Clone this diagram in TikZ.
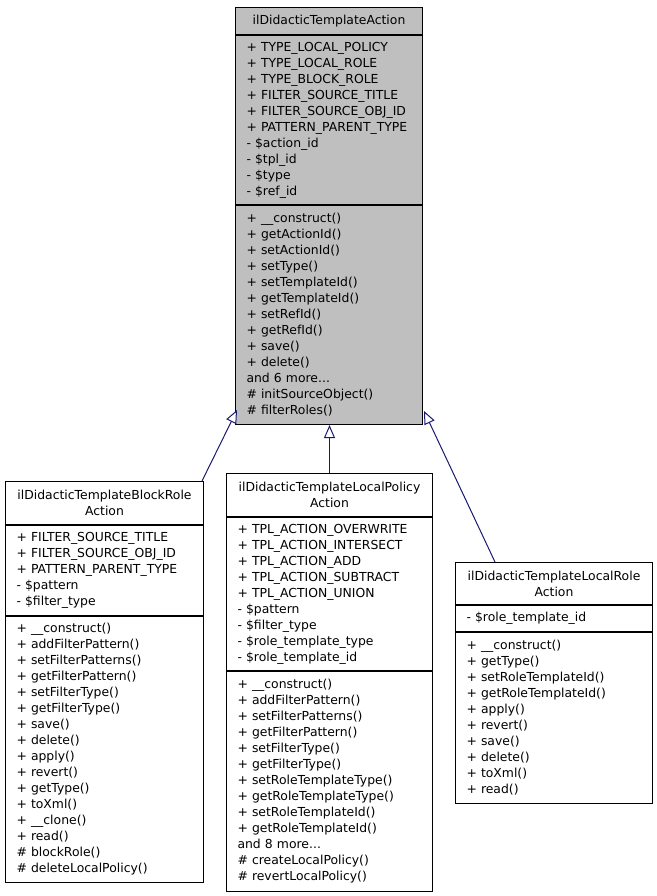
\documentclass[tikz,border=0pt]{standalone}
\usepackage{fontspec}
\usepackage{tikz}
\usetikzlibrary{arrows.meta}
\newfontfamily\umlfont{DejaVu Sans}
\definecolor{basegray}{HTML}{BFBFBF}
\definecolor{edgeblue}{HTML}{191970}

\begin{document}
\begin{tikzpicture}
[   x=1pt,y=-1pt,
    sec/.style={draw=black,line width=1pt,anchor=north west,inner xsep=11pt,inner ysep=0pt,
        align=left,text width=#1,font={\umlfont\fontsize{12.4}{16}\selectfont}},
    head/.style={sec=#1,align=center},
    inherit/.style={draw=edgeblue,line width=1pt,-{Triangle[open,fill=white,length=13pt,width=11pt]}},
]
    \useasboundingbox (0,0) rectangle (656,896);
    % base class
    \node[head=165pt,fill=basegray,minimum height=27pt] (base) at (235,7) {ilDidacticTemplateAction};
    \node[sec=165pt,fill=basegray,minimum height=169pt] (base-a) at (base.south west)
        {+ TYPE\_LOCAL\_POLICY\\+ TYPE\_LOCAL\_ROLE\\+ TYPE\_BLOCK\_ROLE\\+ FILTER\_SOURCE\_TITLE\\
         + FILTER\_SOURCE\_OBJ\_ID\\+ PATTERN\_PARENT\_TYPE\\- \$action\_id\\- \$tpl\_id\\- \$type\\- \$ref\_id};
    \node[sec=165pt,fill=basegray,minimum height=219pt] (base-m) at (base-a.south west)
        {+ \_\_construct()\\+ getActionId()\\+ setActionId()\\+ setType()\\+ setTemplateId()\\
         + getTemplateId()\\+ setRefId()\\+ getRefId()\\+ save()\\+ delete()\\and 6 more...\\
         \# initSourceObject()\\\# filterRoles()};
    % block role
    \node[head=176pt,fill=white,minimum height=43pt] (blk) at (5,481) {ilDidacticTemplateBlockRole\\Action};
    \node[sec=176pt,fill=white,minimum height=90pt] (blk-a) at (blk.south west)
        {+ FILTER\_SOURCE\_TITLE\\+ FILTER\_SOURCE\_OBJ\_ID\\+ PATTERN\_PARENT\_TYPE\\- \$pattern\\- \$filter\_type};
    \node[sec=176pt,fill=white,minimum height=266pt] (blk-m) at (blk-a.south west)
        {+ \_\_construct()\\+ addFilterPattern()\\+ setFilterPatterns()\\+ getFilterPattern()\\
         + setFilterType()\\+ getFilterType()\\+ save()\\+ delete()\\+ apply()\\+ revert()\\
         + getType()\\+ toXml()\\+ \_\_clone()\\+ read()\\\# blockRole()\\\# deleteLocalPolicy()};
    % local policy
    \node[head=184pt,fill=white,minimum height=43pt] (pol) at (226,473) {ilDidacticTemplateLocalPolicy\\Action};
    \node[sec=184pt,fill=white,minimum height=153pt] (pol-a) at (pol.south west)
        {+ TPL\_ACTION\_OVERWRITE\\+ TPL\_ACTION\_INTERSECT\\+ TPL\_ACTION\_ADD\\+ TPL\_ACTION\_SUBTRACT\\
         + TPL\_ACTION\_UNION\\- \$pattern\\- \$filter\_type\\- \$role\_template\_type\\- \$role\_template\_id};
    \node[sec=184pt,fill=white,minimum height=220pt] (pol-m) at (pol-a.south west)
        {+ \_\_construct()\\+ addFilterPattern()\\+ setFilterPatterns()\\+ getFilterPattern()\\
         + setFilterType()\\+ getFilterType()\\+ setRoleTemplateType()\\+ getRoleTemplateType()\\
         + setRoleTemplateId()\\+ getRoleTemplateId()\\and 8 more...\\
         \# createLocalPolicy()\\\# revertLocalPolicy()};
    % local role
    \node[head=175pt,fill=white,minimum height=42pt] (rol) at (455,562) {ilDidacticTemplateLocalRole\\Action};
    \node[sec=175pt,fill=white,minimum height=26pt] (rol-a) at (rol.south west) {- \$role\_template\_id};
    \node[sec=175pt,fill=white,minimum height=171pt] (rol-m) at (rol-a.south west)
        {+ \_\_construct()\\+ getType()\\+ setRoleTemplateId()\\+ getRoleTemplateId()\\+ apply()\\
         + revert()\\+ save()\\+ delete()\\+ toXml()\\+ read()};
    % inheritance
    \draw[inherit] ([xshift=-2pt]blk.north east) -- ([xshift=2pt,yshift=15pt]base-m.south west);
    \draw[inherit] (pol.north) -- (pol.north |- base-m.south);
    \draw[inherit] ([xshift=40pt]rol.north west) -- ([xshift=1pt,yshift=14pt]base-m.south east);
\end{tikzpicture}
\end{document}
